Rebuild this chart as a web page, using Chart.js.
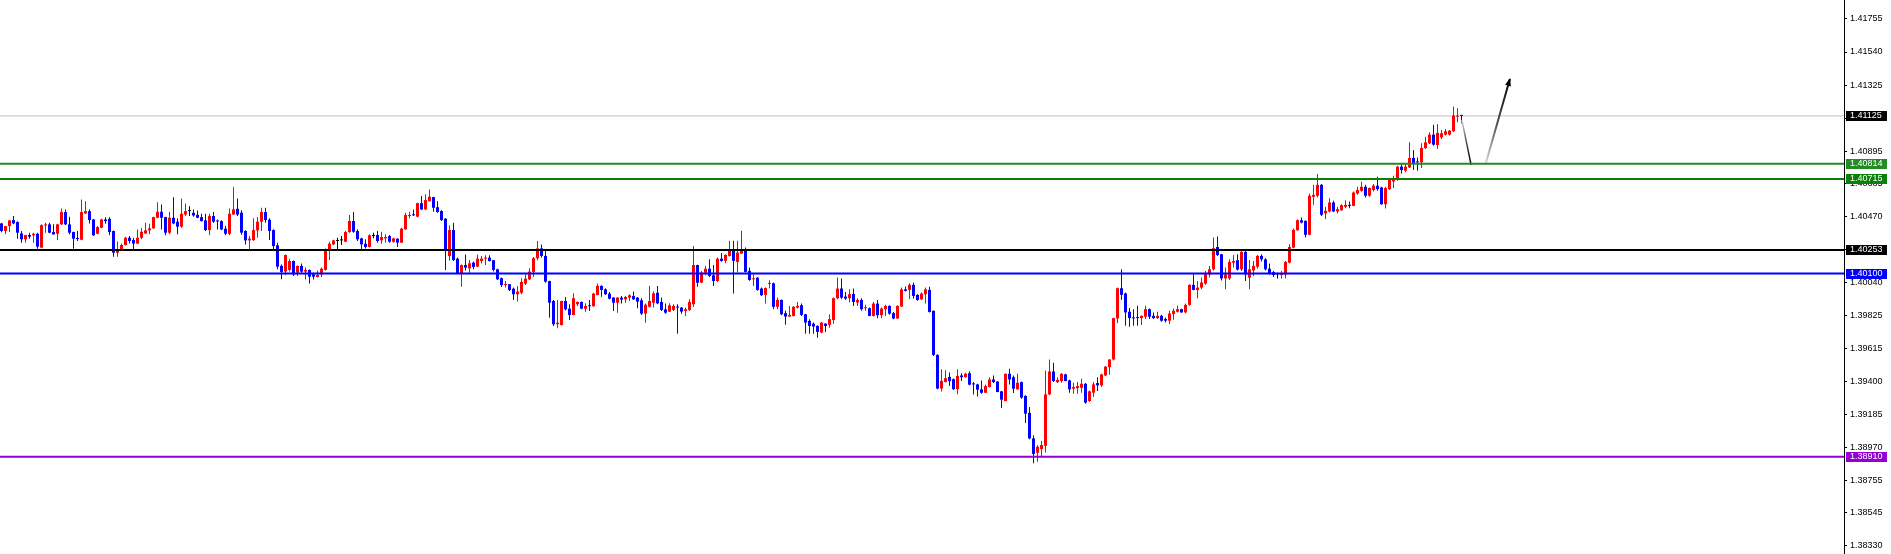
<!DOCTYPE html>
<html>
<head>
<meta charset="utf-8">
<script src="https://cdn.jsdelivr.net/npm/chart.js@4.4.1/dist/chart.umd.min.js"></script>
<style>
  html, body { margin: 0; padding: 0; background: #fff; }
  canvas { display: block; }
</style>
</head>
<body>
<canvas id="priceChart" width="1891" height="554"></canvas>
<script>
// candle data (one entry per bar, oldest first)
const opens = [
  1.40426,1.40377,1.40409,1.40448,1.40435,1.40361,1.40323,1.40351,1.40349,1.40359,
  1.40269,1.40413,1.40420,1.40370,1.40359,1.40420,1.40500,1.40420,1.40370,1.40329,
  1.40320,1.40491,1.40506,1.40452,1.40359,1.40398,1.40452,1.40456,1.40377,1.40236,
  1.40254,1.40286,1.40333,1.40318,1.40295,1.40333,1.40361,1.40381,1.40394,1.40463,
  1.40502,1.40467,1.40366,1.40463,1.40437,1.40405,1.40484,1.40506,1.40495,1.40482,
  1.40467,1.40446,1.40383,1.40474,1.40441,1.40441,1.40392,1.40359,1.40484,1.40521,
  1.40496,1.40377,1.40316,1.40318,1.40381,1.40437,1.40500,1.40450,1.40383,1.40284,
  1.40150,1.40113,1.40124,1.40182,1.40106,1.40150,1.40113,1.40124,1.40095,1.40078,
  1.40095,1.40124,1.40253,1.40290,1.40312,1.40316,1.40307,1.40370,1.40442,1.40377,
  1.40329,1.40294,1.40273,1.40344,1.40351,1.40316,1.40329,1.40344,1.40307,1.40327,
  1.40301,1.40388,1.40474,1.40481,1.40470,1.40558,1.40517,1.40571,1.40597,1.40532,
  1.40507,1.40457,1.40214,1.40383,1.40197,1.40100,1.40156,1.40134,1.40171,1.40145,
  1.40182,1.40197,1.40204,1.40187,1.40128,1.40070,1.40026,1.40031,1.40002,1.39966,
  1.39976,1.40035,1.40063,1.40111,1.40200,1.40264,1.40215,1.40052,1.39922,1.39771,
  1.39766,1.39922,1.39872,1.39831,1.39901,1.39916,1.39872,1.39890,1.39888,1.39961,
  1.40020,1.39998,1.39970,1.39944,1.39911,1.39944,1.39933,1.39944,1.39955,1.39944,
  1.39927,1.39840,1.39885,1.39911,1.39976,1.39916,1.39868,1.39853,1.39864,1.39881,
  1.39879,1.39857,1.39864,1.39901,1.40156,1.40041,1.40106,1.40132,1.40089,1.40052,
  1.40197,1.40183,1.40215,1.40248,1.40176,1.40230,1.40254,1.40118,1.40063,1.40074,
  1.40003,1.39962,1.40033,1.40037,1.39884,1.39929,1.39843,1.39821,1.39825,1.39879,
  1.39895,1.39836,1.39793,1.39775,1.39760,1.39717,1.39775,1.39767,1.39799,1.39940,
  1.40003,1.39951,1.39940,1.39968,1.39912,1.39929,1.39875,1.39875,1.39825,1.39905,
  1.39830,1.39869,1.39890,1.39843,1.39808,1.39886,1.39998,1.39994,1.40027,1.39962,
  1.39933,1.39966,1.39994,1.39858,1.39572,1.39353,1.39396,1.39429,1.39414,1.39349,
  1.39438,1.39427,1.39453,1.39384,1.39380,1.39348,1.39326,1.39363,1.39412,1.39399,
  1.39335,1.39272,1.39449,1.39427,1.39348,1.39395,1.39305,1.39195,1.39029,1.38936,
  1.38960,1.38981,1.39315,1.39464,1.39395,1.39402,1.39445,1.39406,1.39352,1.39356,
  1.39358,1.39384,1.39272,1.39326,1.39389,1.39374,1.39438,1.39492,1.39542,1.39809,
  1.40005,1.39971,1.39852,1.39813,1.39813,1.39811,1.39820,1.39869,1.39826,1.39811,
  1.39826,1.39805,1.39794,1.39837,1.39852,1.39869,1.39848,1.39897,1.40027,1.39994,
  1.40009,1.40035,1.40095,1.40128,1.40273,1.40226,1.40069,1.40069,1.40171,1.40187,
  1.40128,1.40241,1.40074,1.40121,1.40145,1.40215,1.40193,1.40132,1.40110,1.40095,
  1.40091,1.40095,1.40171,1.40269,1.40382,1.40447,1.40443,1.40352,1.40599,1.40606,
  1.40677,1.40491,1.40504,1.40562,1.40504,1.40512,1.40534,1.40547,1.40540,1.40621,
  1.40638,1.40664,1.40606,1.40643,1.40671,1.40660,1.40551,1.40649,1.40699,1.40708,
  1.40795,1.40769,1.40790,1.40851,1.40827,1.40823,1.40916,1.40947,1.41003,1.40936,
  1.40986,1.41003,1.41003,1.41025,1.41120,1.41127
];
const highs = [
  1.40431,1.40409,1.40446,1.40474,1.40441,1.40377,1.40351,1.40366,1.40366,1.40366,
  1.40420,1.40431,1.40431,1.40420,1.40424,1.40523,1.40517,1.40469,1.40372,1.40377,
  1.40582,1.40571,1.40517,1.40455,1.40409,1.40456,1.40467,1.40467,1.40380,1.40308,
  1.40295,1.40340,1.40344,1.40333,1.40387,1.40394,1.40431,1.40424,1.40470,1.40564,
  1.40549,1.40470,1.40502,1.40597,1.40459,1.40588,1.40556,1.40538,1.40517,1.40510,
  1.40489,1.40489,1.40489,1.40500,1.40452,1.40446,1.40409,1.40523,1.40661,1.40588,
  1.40511,1.40381,1.40344,1.40459,1.40468,1.40528,1.40528,1.40459,1.40388,1.40301,
  1.40160,1.40224,1.40197,1.40186,1.40152,1.40165,1.40139,1.40126,1.40106,1.40121,
  1.40139,1.40264,1.40307,1.40320,1.40333,1.40344,1.40377,1.40481,1.40500,1.40388,
  1.40333,1.40323,1.40355,1.40366,1.40377,1.40372,1.40355,1.40351,1.40333,1.40329,
  1.40398,1.40496,1.40502,1.40517,1.40561,1.40604,1.40615,1.40647,1.40600,1.40571,
  1.40511,1.40460,1.40414,1.40431,1.40204,1.40159,1.40225,1.40188,1.40178,1.40225,
  1.40215,1.40219,1.40219,1.40189,1.40132,1.40074,1.40052,1.40033,1.40009,1.40020,
  1.40070,1.40096,1.40135,1.40208,1.40312,1.40290,1.40247,1.40054,1.39929,1.39929,
  1.39924,1.39948,1.39901,1.39972,1.39918,1.39918,1.39907,1.39929,1.39976,1.40035,
  1.40024,1.40005,1.39981,1.39946,1.39948,1.39955,1.39955,1.39966,1.39983,1.39948,
  1.39940,1.39905,1.40020,1.39983,1.40020,1.39944,1.39905,1.39907,1.39901,1.39901,
  1.39883,1.39879,1.39933,1.40280,1.40158,1.40117,1.40150,1.40193,1.40156,1.40204,
  1.40234,1.40226,1.40313,1.40313,1.40313,1.40378,1.40269,1.40139,1.40096,1.40076,
  1.40009,1.40009,1.40057,1.40042,1.39944,1.39931,1.39858,1.39890,1.39890,1.39916,
  1.39905,1.39838,1.39804,1.39782,1.39765,1.39786,1.39778,1.39836,1.39944,1.40074,
  1.40068,1.39981,1.39998,1.40003,1.39940,1.39940,1.39897,1.39879,1.39916,1.39929,
  1.39879,1.39897,1.39895,1.39851,1.39895,1.40009,1.40016,1.40037,1.40042,1.39966,
  1.39977,1.40009,1.40014,1.39860,1.39576,1.39479,1.39472,1.39457,1.39418,1.39479,
  1.39453,1.39456,1.39464,1.39395,1.39384,1.39406,1.39380,1.39427,1.39438,1.39401,
  1.39337,1.39451,1.39481,1.39438,1.39449,1.39399,1.39309,1.39234,1.39050,1.38986,
  1.39012,1.39471,1.39542,1.39520,1.39427,1.39453,1.39449,1.39410,1.39391,1.39395,
  1.39417,1.39389,1.39341,1.39395,1.39427,1.39449,1.39498,1.39544,1.39813,1.40009,
  1.40128,1.39977,1.39876,1.39869,1.39891,1.39828,1.39891,1.39874,1.39848,1.39852,
  1.39833,1.39815,1.39858,1.39874,1.39891,1.39871,1.39906,1.40031,1.40096,1.40052,
  1.40074,1.40117,1.40150,1.40334,1.40341,1.40228,1.40139,1.40193,1.40221,1.40226,
  1.40247,1.40247,1.40189,1.40182,1.40221,1.40226,1.40200,1.40165,1.40117,1.40106,
  1.40117,1.40182,1.40291,1.40393,1.40454,1.40465,1.40445,1.40621,1.40677,1.40747,
  1.40682,1.40534,1.40590,1.40573,1.40534,1.40551,1.40577,1.40569,1.40634,1.40664,
  1.40697,1.40677,1.40660,1.40682,1.40730,1.40664,1.40664,1.40721,1.40736,1.40801,
  1.40812,1.40816,1.40953,1.40903,1.40855,1.40947,1.40990,1.41018,1.41068,1.41073,
  1.41034,1.41040,1.41034,1.41186,1.41175,1.41131
];
const lows = [
  1.40368,1.40355,1.40370,1.40420,1.40327,1.40301,1.40301,1.40327,1.40301,1.40262,
  1.40265,1.40366,1.40362,1.40353,1.40318,1.40416,1.40416,1.40355,1.40262,1.40312,
  1.40316,1.40488,1.40426,1.40344,1.40355,1.40395,1.40424,1.40349,1.40210,1.40210,
  1.40251,1.40283,1.40295,1.40258,1.40292,1.40323,1.40358,1.40355,1.40391,1.40460,
  1.40387,1.40349,1.40355,1.40420,1.40355,1.40398,1.40474,1.40474,1.40469,1.40459,
  1.40438,1.40377,1.40349,1.40431,1.40387,1.40384,1.40349,1.40349,1.40481,1.40474,
  1.40352,1.40290,1.40258,1.40312,1.40333,1.40377,1.40431,1.40318,1.40258,1.40128,
  1.40063,1.40091,1.40113,1.40085,1.40085,1.40106,1.40061,1.40035,1.40061,1.40074,
  1.40078,1.40121,1.40188,1.40284,1.40258,1.40286,1.40305,1.40366,1.40366,1.40312,
  1.40247,1.40264,1.40269,1.40329,1.40301,1.40294,1.40301,1.40301,1.40301,1.40273,
  1.40299,1.40385,1.40459,1.40474,1.40467,1.40513,1.40513,1.40568,1.40502,1.40496,
  1.40442,1.40124,1.40186,1.40182,1.40097,1.40015,1.40121,1.40106,1.40128,1.40143,
  1.40165,1.40156,1.40178,1.40113,1.40059,1.40013,1.40009,1.39987,1.39929,1.39918,
  1.39966,1.40026,1.40059,1.40078,1.40187,1.40204,1.40041,1.39814,1.39760,1.39745,
  1.39763,1.39862,1.39799,1.39829,1.39890,1.39868,1.39853,1.39857,1.39885,1.39959,
  1.39950,1.39961,1.39933,1.39857,1.39846,1.39905,1.39911,1.39922,1.39929,1.39875,
  1.39831,1.39781,1.39879,1.39879,1.39901,1.39857,1.39840,1.39851,1.39857,1.39710,
  1.39840,1.39825,1.39857,1.39883,1.40015,1.40039,1.40089,1.40078,1.40020,1.40046,
  1.40177,1.40167,1.40211,1.39970,1.40107,1.40228,1.40107,1.40053,1.40020,1.39988,
  1.39955,1.39905,1.40003,1.39869,1.39869,1.39830,1.39767,1.39819,1.39821,1.39873,
  1.39825,1.39710,1.39710,1.39710,1.39684,1.39713,1.39721,1.39749,1.39775,1.39933,
  1.39933,1.39929,1.39912,1.39890,1.39890,1.39858,1.39858,1.39823,1.39821,1.39810,
  1.39810,1.39825,1.39832,1.39804,1.39806,1.39884,1.39983,1.39933,1.39938,1.39923,
  1.39929,1.39905,1.39847,1.39565,1.39349,1.39334,1.39392,1.39370,1.39344,1.39316,
  1.39402,1.39423,1.39374,1.39315,1.39302,1.39320,1.39324,1.39361,1.39389,1.39329,
  1.39227,1.39270,1.39380,1.39324,1.39346,1.39287,1.39130,1.39024,1.38867,1.38878,
  1.38915,1.38938,1.39309,1.39395,1.39389,1.39391,1.39400,1.39326,1.39320,1.39320,
  1.39326,1.39255,1.39266,1.39298,1.39337,1.39363,1.39434,1.39443,1.39535,1.39777,
  1.39930,1.39762,1.39755,1.39762,1.39762,1.39766,1.39805,1.39805,1.39805,1.39805,
  1.39787,1.39783,1.39772,1.39800,1.39848,1.39846,1.39843,1.39891,1.39992,1.39940,
  1.39999,1.40027,1.40074,1.40121,1.40215,1.40056,1.39998,1.40058,1.40139,1.40121,
  1.40117,1.40052,1.39998,1.40084,1.40134,1.40178,1.40121,1.40095,1.40078,1.40069,
  1.40069,1.40069,1.40165,1.40265,1.40378,1.40425,1.40334,1.40349,1.40547,1.40595,
  1.40475,1.40454,1.40497,1.40501,1.40491,1.40508,1.40525,1.40525,1.40538,1.40612,
  1.40632,1.40595,1.40599,1.40634,1.40638,1.40547,1.40523,1.40643,1.40656,1.40703,
  1.40751,1.40758,1.40786,1.40773,1.40769,1.40786,1.40910,1.40942,1.40931,1.40910,
  1.40975,1.40997,1.40997,1.41022,1.41084,1.41077
];
const closes = [
  1.40377,1.40409,1.40446,1.40426,1.40366,1.40323,1.40351,1.40340,1.40359,1.40275,
  1.40415,1.40420,1.40366,1.40355,1.40420,1.40500,1.40420,1.40366,1.40327,1.40325,
  1.40500,1.40506,1.40448,1.40349,1.40402,1.40452,1.40441,1.40370,1.40236,1.40254,
  1.40286,1.40333,1.40312,1.40295,1.40333,1.40372,1.40381,1.40394,1.40467,1.40502,
  1.40463,1.40366,1.40463,1.40426,1.40405,1.40489,1.40506,1.40506,1.40478,1.40463,
  1.40441,1.40383,1.40474,1.40437,1.40439,1.40387,1.40359,1.40489,1.40517,1.40484,
  1.40366,1.40316,1.40327,1.40383,1.40437,1.40500,1.40448,1.40377,1.40279,1.40145,
  1.40111,1.40221,1.40182,1.40095,1.40150,1.40113,1.40124,1.40080,1.40080,1.40091,
  1.40132,1.40253,1.40294,1.40316,1.40312,1.40316,1.40370,1.40442,1.40372,1.40323,
  1.40290,1.40273,1.40349,1.40344,1.40312,1.40338,1.40338,1.40307,1.40329,1.40301,
  1.40392,1.40481,1.40481,1.40479,1.40558,1.40517,1.40578,1.40600,1.40528,1.40500,
  1.40448,1.40258,1.40383,1.40188,1.40100,1.40156,1.40139,1.40167,1.40143,1.40197,
  1.40197,1.40204,1.40182,1.40124,1.40063,1.40026,1.40031,1.39994,1.39966,1.39983,
  1.40046,1.40067,1.40113,1.40200,1.40264,1.40215,1.40048,1.39911,1.39771,1.39781,
  1.39922,1.39868,1.39831,1.39940,1.39916,1.39872,1.39890,1.39888,1.39970,1.40020,
  1.39994,1.39966,1.39937,1.39911,1.39944,1.39931,1.39948,1.39959,1.39933,1.39918,
  1.39840,1.39898,1.39922,1.39972,1.39907,1.39864,1.39846,1.39894,1.39890,1.39879,
  1.39853,1.39868,1.39916,1.40156,1.40041,1.40106,1.40132,1.40085,1.40052,1.40197,
  1.40182,1.40222,1.40248,1.40183,1.40237,1.40258,1.40111,1.40059,1.40068,1.39994,
  1.39960,1.40007,1.40037,1.39884,1.39929,1.39836,1.39821,1.39832,1.39884,1.39890,
  1.39832,1.39782,1.39760,1.39756,1.39721,1.39782,1.39760,1.39804,1.39940,1.40003,
  1.39944,1.39938,1.39966,1.39916,1.39929,1.39869,1.39879,1.39825,1.39905,1.39830,
  1.39873,1.39890,1.39840,1.39808,1.39890,1.39998,1.39988,1.40027,1.39955,1.39929,
  1.39970,1.39998,1.39851,1.39572,1.39353,1.39403,1.39420,1.39401,1.39349,1.39435,
  1.39427,1.39449,1.39378,1.39380,1.39346,1.39326,1.39369,1.39412,1.39395,1.39331,
  1.39281,1.39449,1.39412,1.39352,1.39391,1.39294,1.39190,1.39029,1.38928,1.38975,
  1.38986,1.39315,1.39464,1.39402,1.39410,1.39449,1.39402,1.39348,1.39363,1.39369,
  1.39384,1.39262,1.39335,1.39380,1.39374,1.39445,1.39496,1.39542,1.39811,1.40005,
  1.39962,1.39848,1.39811,1.39809,1.39811,1.39826,1.39869,1.39820,1.39811,1.39826,
  1.39794,1.39794,1.39841,1.39858,1.39869,1.39848,1.39897,1.40027,1.39994,1.40009,
  1.40042,1.40096,1.40128,1.40265,1.40221,1.40069,1.40095,1.40176,1.40182,1.40126,
  1.40241,1.40095,1.40128,1.40150,1.40215,1.40193,1.40128,1.40100,1.40091,1.40095,
  1.40100,1.40176,1.40273,1.40384,1.40447,1.40432,1.40352,1.40606,1.40612,1.40677,
  1.40482,1.40508,1.40562,1.40504,1.40519,1.40545,1.40547,1.40540,1.40627,1.40643,
  1.40664,1.40606,1.40656,1.40671,1.40649,1.40551,1.40656,1.40708,1.40721,1.40795,
  1.40773,1.40795,1.40851,1.40816,1.40823,1.40916,1.40953,1.41003,1.40938,1.41014,
  1.41012,1.41025,1.41029,1.41127,1.41127,1.41125
];

// price axis labels
const priceTicks = [
  1.41755, 1.41540, 1.41325, 1.41110, 1.40895, 1.40685, 1.40470, 1.40255, 1.40040,
  1.39825, 1.39615, 1.39400, 1.39185, 1.38970, 1.38755, 1.38545, 1.38330
];

// horizontal levels drawn on the chart
const levelPrices = [1.40814, 1.40715, 1.40253, 1.40100, 1.38910];
const levelColors = ['#228b22', '#0a800a', '#000000', '#0000ff', '#9400d3'];
const bidPrice = 1.41125;

// projection arrows (bar index, price)
const arrowDown = [{ x: 365.1, y: 1.41098 }, { x: 367.4, y: 1.40806 }];
const arrowUp = [{ x: 371.1, y: 1.40819 }, { x: 377.1, y: 1.41365 }];

const xMin = -0.375;
const xMax = 460.625;
const yMin = 1.38278;
const yMax = 1.41878;
const axisFont = { family: 'Liberation Sans', size: 9 };

function candleColor(i) {
  if (i === undefined) return '#000000';
  if (closes[i] > opens[i]) return '#ff0000';
  if (closes[i] < opens[i]) return '#0000ff';
  return '#000000';
}

// fade from light grey at the start to black at the end of a segment
function fadeStroke(pts) {
  return function(c) {
    const chart = c.chart;
    const xs = chart.scales.x, ys = chart.scales.y;
    if (!xs || !ys) return '#000000';
    const x0 = xs.getPixelForValue(pts[0].x), y0 = ys.getPixelForValue(pts[0].y);
    const x1 = xs.getPixelForValue(pts[1].x), y1 = ys.getPixelForValue(pts[1].y);
    if (![x0, y0, x1, y1].every(Number.isFinite)) return '#000000';
    const g = chart.ctx.createLinearGradient(x0, y0, x1, y1);
    g.addColorStop(0, '#d8d8d8');
    g.addColorStop(0.45, '#555555');
    g.addColorStop(1, '#000000');
    return g;
  };
}

const idx = opens.map((_, i) => i);

const datasets = [];

// level lines
levelPrices.forEach((p, i) => {
  datasets.push({
    type: 'line',
    data: [{ x: xMin, y: p }, { x: xMax, y: p }],
    borderColor: levelColors[i],
    borderWidth: 2,
    pointRadius: 0,
    order: 0
  });
});

// arrows
[arrowDown, arrowUp].forEach((pts, i) => {
  datasets.push({
    type: 'line',
    data: pts,
    borderColor: fadeStroke(pts),
    borderWidth: i === 0 ? 1.5 : 2,
    pointRadius: 0,
    order: 0
  });
});

// candle bodies
datasets.push({
  type: 'bar',
  data: idx.map(i => ({ x: i, y: [opens[i], closes[i]] })),
  backgroundColor: c => candleColor(c.dataIndex),
  grouped: false,
  barPercentage: 1,
  maxBarThickness: 3,
  minBarLength: 1,
  inflateAmount: 0,
  borderWidth: 0,
  order: 1
});

// wicks
datasets.push({
  type: 'bar',
  data: idx.map(i => ({ x: i, y: [lows[i], highs[i]] })),
  backgroundColor: c => candleColor(c.dataIndex),
  grouped: false,
  barPercentage: 1,
  maxBarThickness: 1,
  minBarLength: 1,
  inflateAmount: 0,
  borderWidth: 0,
  order: 2
});

// bid line
datasets.push({
  type: 'line',
  data: [{ x: xMin, y: bidPrice }, { x: xMax, y: bidPrice }],
  borderColor: '#c0c0c0',
  borderWidth: 1,
  pointRadius: 0,
  order: 3
});

// arrow head at the end of the upward arrow
const arrowHeadPlugin = {
  id: 'arrowHead',
  afterDatasetsDraw(chart) {
    const xs = chart.scales.x, ys = chart.scales.y, ctx = chart.ctx;
    const x0 = xs.getPixelForValue(arrowUp[0].x), y0 = ys.getPixelForValue(arrowUp[0].y);
    const x1 = xs.getPixelForValue(arrowUp[1].x), y1 = ys.getPixelForValue(arrowUp[1].y);
    const ang = Math.atan2(y1 - y0, x1 - x0);
    const len = 7, half = 3;
    ctx.save();
    ctx.translate(x1, y1);
    ctx.rotate(ang);
    ctx.beginPath();
    ctx.moveTo(1, 0);
    ctx.lineTo(-len, -half);
    ctx.lineTo(-len, half);
    ctx.closePath();
    ctx.fillStyle = '#000000';
    ctx.fill();
    ctx.restore();
  }
};

// price tags on the axis
const tagPrices = [bidPrice].concat(levelPrices);
const tagColors = ['#000000'].concat(levelColors);
const priceTagPlugin = {
  id: 'priceTags',
  afterDraw(chart) {
    const ys = chart.scales.y, ctx = chart.ctx;
    ctx.save();
    ctx.font = axisFont.size + 'px "' + axisFont.family + '"';
    ctx.textBaseline = 'middle';
    ctx.textAlign = 'left';
    tagPrices.forEach((p, i) => {
      const y = Math.round(ys.getPixelForValue(p));
      ctx.fillStyle = tagColors[i];
      ctx.fillRect(ys.left + 2, y - 5, 41, 10);
      ctx.fillStyle = '#ffffff';
      ctx.fillText(p.toFixed(5), ys.left + 6, y);
    });
    ctx.restore();
  }
};

const ctx = document.getElementById('priceChart').getContext('2d');
new Chart(ctx, {
  type: 'bar',
  data: { datasets: datasets },
  options: {
    responsive: false,
    animation: false,
    events: [],
    layout: { padding: 0 },
    plugins: {
      legend: { display: false },
      tooltip: { enabled: false }
    },
    scales: {
      x: {
        type: 'linear',
        min: xMin,
        max: xMax,
        offset: false,
        display: false,
        grid: { offset: false },
        afterBuildTicks: scale => { scale.ticks = [{ value: 0 }]; }
      },
      y: {
        type: 'linear',
        position: 'right',
        min: yMin,
        max: yMax,
        afterBuildTicks: scale => { scale.ticks = priceTicks.map(v => ({ value: v })); },
        afterFit: scale => {
          // fixed axis strip, no extra room reserved for edge labels
          scale.width = 47;
          scale.paddingTop = 0;
          scale.paddingBottom = 0;
        },
        grid: { drawOnChartArea: false, drawTicks: true, tickLength: 3, color: '#000000' },
        border: { display: true, color: '#000000', width: 1 },
        ticks: {
          autoSkip: false,
          padding: 3,
          color: '#000000',
          font: axisFont,
          callback: v => Number(v).toFixed(5)
        }
      }
    }
  },
  plugins: [arrowHeadPlugin, priceTagPlugin]
});
</script>
</body>
</html>
